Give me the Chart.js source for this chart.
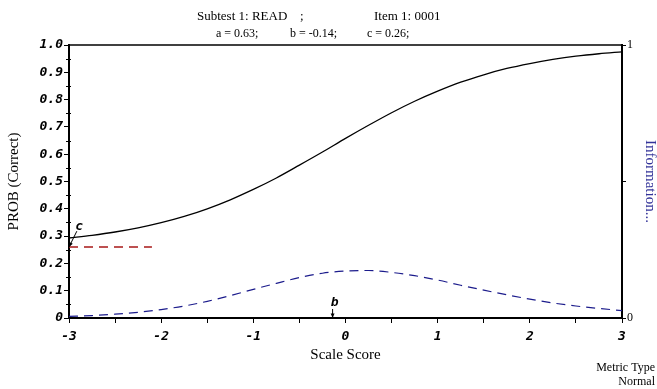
<!DOCTYPE html>
<html>
<head>
<meta charset="utf-8">
<script src="https://cdn.jsdelivr.net/npm/chart.js@4/dist/chart.umd.min.js"></script>
<style>
  html, body { margin: 0; padding: 0; background: #fff; }
  #wrap { width: 657px; height: 389px; }
</style>
</head>
<body>
<div id="wrap"><canvas id="iccChart" width="657" height="389"></canvas></div>
<script>
// item parameters (shown in the header)
const itemA = 0.63;
const itemB = -0.14;
const itemC = 0.26;

// scale score grid and values
const scoreGrid = [-3, -2.75, -2.5, -2.25, -2, -1.75, -1.5, -1.25, -1, -0.75, -0.5, -0.25,
  0, 0.25, 0.5, 0.75, 1, 1.25, 1.5, 1.75, 2, 2.25, 2.5, 2.75, 3];
const probCorrect = [0.293, 0.303, 0.315, 0.330, 0.349, 0.372, 0.400, 0.433, 0.471, 0.513, 0.560, 0.608,
  0.658, 0.706, 0.752, 0.794, 0.831, 0.864, 0.891, 0.914, 0.932, 0.947, 0.959, 0.968, 0.975];
const itemInfo = [0.006, 0.009, 0.014, 0.021, 0.031, 0.044, 0.061, 0.082, 0.105, 0.127, 0.148, 0.164,
  0.172, 0.174, 0.167, 0.155, 0.139, 0.120, 0.102, 0.085, 0.069, 0.055, 0.044, 0.035, 0.027];

// lower asymptote marker
const guessX = [-3, -2.1];
const guessY = [itemC, itemC];

const serif = '"Liberation Serif", "Times New Roman", serif';
const mono = '"DejaVu Sans Mono", monospace';
const tickFont = { family: mono, size: 13, weight: "bold", style: "italic" };

function arrow(ctx, x1, y1, x2, y2) {
  const ang = Math.atan2(y2 - y1, x2 - x1);
  ctx.beginPath();
  ctx.moveTo(x1, y1);
  ctx.lineTo(x2, y2);
  ctx.stroke();
  ctx.beginPath();
  ctx.moveTo(x2, y2);
  ctx.lineTo(x2 - 5 * Math.cos(ang - 0.4), y2 - 5 * Math.sin(ang - 0.4));
  ctx.lineTo(x2 - 5 * Math.cos(ang + 0.4), y2 - 5 * Math.sin(ang + 0.4));
  ctx.closePath();
  ctx.fill();
}

// ── extras: frame top, minor ticks, header text, c / b markers ──
const decorPlugin = {
  id: "decor",
  afterDraw(chart) {
    const { ctx, chartArea: a, scales: { x, y } } = chart;
    ctx.save();
    ctx.strokeStyle = "#000";
    ctx.fillStyle = "#000";

    ctx.lineWidth = 1.5;
    ctx.beginPath();
    ctx.moveTo(a.left, a.top);
    ctx.lineTo(a.right, a.top);
    ctx.stroke();

    ctx.lineWidth = 1;
    for (let v = 0.05; v < 1; v += 0.1) {
      const py = Math.round(y.getPixelForValue(v)) + 0.5;
      ctx.beginPath();
      ctx.moveTo(a.left - 3, py);
      ctx.lineTo(a.left + 2, py);
      ctx.stroke();
    }

    ctx.textBaseline = "alphabetic";
    ctx.textAlign = "left";
    ctx.font = "13px " + serif;
    ctx.fillText("Subtest 1: READ", 197, 20);
    ctx.fillText(";", 300, 20);
    ctx.fillText("Item 1: 0001", 374, 20);
    ctx.font = "12px " + serif;
    ctx.fillText("a = " + itemA.toFixed(2) + ";", 216, 37);
    ctx.fillText("b = " + itemB.toFixed(2) + ";", 290, 37);
    ctx.fillText("c = " + itemC.toFixed(2) + ";", 367, 37);

    ctx.textAlign = "right";
    ctx.fillText("Metric Type", 655, 371);
    ctx.fillText("Normal", 655, 385);

    // c marker
    ctx.font = "bold italic 13px " + mono;
    ctx.textAlign = "center";
    ctx.textBaseline = "middle";
    ctx.fillText("c", x.getPixelForValue(-2.89), y.getPixelForValue(0.335));
    ctx.lineWidth = 1;
    arrow(ctx, x.getPixelForValue(-2.915), y.getPixelForValue(0.318),
      x.getPixelForValue(-3), y.getPixelForValue(itemC));

    // b marker
    ctx.fillText("b", x.getPixelForValue(itemB) + 2, y.getPixelForValue(0.055));
    arrow(ctx, x.getPixelForValue(itemB), y.getPixelForValue(0.033),
      x.getPixelForValue(itemB), y.getPixelForValue(0));
    ctx.restore();
  }
};

const toPoints = (xs, ys) => xs.map((v, i) => ({ x: v, y: ys[i] }));

new Chart(document.getElementById("iccChart"), {
  type: "line",
  data: {
    datasets: [
      {
        label: "PROB (Correct)",
        data: toPoints(scoreGrid, probCorrect),
        borderColor: "#000",
        borderWidth: 1.3,
        pointRadius: 0,
        cubicInterpolationMode: "monotone",
        yAxisID: "y"
      },
      {
        label: "Information",
        data: toPoints(scoreGrid, itemInfo),
        borderColor: "#1c1c8c",
        borderWidth: 1.2,
        borderDash: [9, 6],
        pointRadius: 0,
        cubicInterpolationMode: "monotone",
        yAxisID: "y2"
      },
      {
        label: "c",
        data: toPoints(guessX, guessY),
        borderColor: "#a81818",
        borderWidth: 1.4,
        borderDash: [9, 6],
        pointRadius: 0,
        yAxisID: "y"
      }
    ]
  },
  options: {
    responsive: false,
    devicePixelRatio: 1,
    animation: false,
    layout: { padding: { top: 45, left: 0, right: 0, bottom: 0 } },
    plugins: {
      legend: { display: false },
      tooltip: { enabled: false }
    },
    scales: {
      x: {
        type: "linear",
        min: -3,
        max: 3,
        afterFit: s => { s.height = 71; },
        ticks: {
          stepSize: 0.5,
          color: "#000",
          font: tickFont,
          padding: 6,
          maxRotation: 0,
          autoSkip: false,
          callback: v => Number.isInteger(v) ? String(v) : ""
        },
        grid: { drawOnChartArea: false, tickLength: 5, color: "#000" },
        border: { color: "#000", width: 2 },
        title: {
          display: true,
          text: "Scale Score",
          color: "#000",
          font: { family: serif, size: 15 },
          padding: { top: 0, bottom: 25 }
        }
      },
      y: {
        position: "left",
        min: 0,
        max: 1,
        afterFit: s => { s.width = 69; },
        ticks: {
          stepSize: 0.1,
          color: "#000",
          font: tickFont,
          padding: 1,
          callback: v => v === 0 ? "0" : v.toFixed(1)
        },
        grid: { drawOnChartArea: false, tickLength: 5, color: "#000" },
        border: { color: "#000", width: 2 },
        title: {
          display: true,
          text: "PROB (Correct)",
          color: "#000",
          font: { family: serif, size: 15 },
          padding: { top: 5, bottom: 0 }
        }
      },
      y2: {
        position: "right",
        min: 0,
        max: 1,
        afterFit: s => { s.width = 35; },
        ticks: {
          stepSize: 0.5,
          color: "#000",
          font: { family: serif, size: 12 },
          padding: 1,
          callback: v => v === 0.5 ? "" : String(v)
        },
        grid: { drawOnChartArea: false, tickLength: 4, color: "#000" },
        border: { color: "#000", width: 2 },
        title: {
          display: true,
          text: "Information...",
          color: "#333399",
          font: { family: serif, size: 15 },
          padding: { top: -2, bottom: 0 }
        }
      }
    }
  },
  plugins: [decorPlugin]
});
</script>
</body>
</html>
